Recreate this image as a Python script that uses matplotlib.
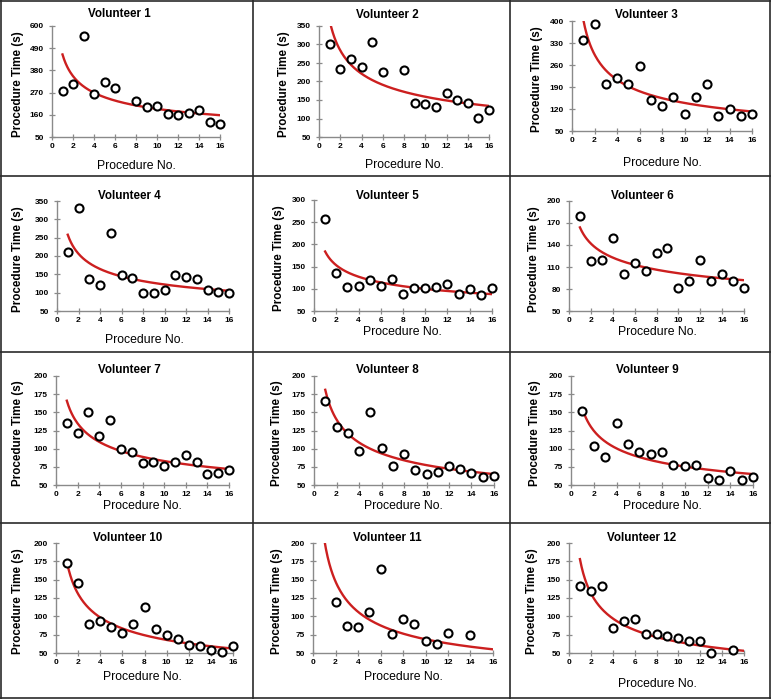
import numpy as np
import matplotlib
matplotlib.use("Agg")
import matplotlib.pyplot as plt
from matplotlib.lines import Line2D

plt.rcParams['font.family'] = ['Liberation Sans', 'DejaVu Sans']

nan = np.nan
procedure_no = np.arange(1, 17)

titles = ["Volunteer %d" % i for i in range(1, 13)]

v1 = [279, 313, 552, 262, 322, 295, nan, 229, 199, 206, 166, 158, 171, 186, 123, 116]
v2 = [300, 234, 260, 238, 308, 227, nan, 232, 141, 139, 132, 169, 149, 142, 101, 122]
v3 = [341, 391, 199, 218, 199, 256, 148, 129, 159, 105, 159, 199, 99, 120, 98, 105]
v4 = [211, 332, 136, 122, 263, 147, 141, 100, 100, 107, 148, 142, 136, 107, 101, 98]
v5 = [258, 135, 104, 107, 120, 107, 121, 88, 101, 101, 104, 111, 88, 99, 87, 101]
v6 = [180, 118, 119, 150, 101, 116, 105, 129, 136, 81, 91, 120, 91, 101, 91, 81]
v7 = [136, 122, 151, 117, 140, 99, 96, 80, 81, 76, 81, 91, 81, 65, 66, 70]
v8 = [165, 130, 121, 97, 150, 101, 76, 92, 71, 65, 68, 76, 72, 66, 61, 62]
v9 = [152, 103, 89, 136, 106, 96, 92, 96, 78, 76, 77, 60, 57, 69, 57, 61]
v10 = [173, 145, 90, 94, 85, 77, 90, 113, 83, 75, 69, 61, 59, 54, 51, 59]
v11 = [nan, 120, 87, 86, 106, 165, 76, 96, 90, 66, 62, 77, nan, 75, nan, nan]
v12 = [141, 135, 141, 84, 93, 96, 76, 76, 73, 70, 67, 66, 50, nan, 54, nan]
volunteers = [v1, v2, v3, v4, v5, v6, v7, v8, v9, v10, v11, v12]

# power trend line values read at procedure 1 and 16
trend_start = [459, 365, 405, 258, 184, 164, 166, 181, 155, 173, 205, 178]
trend_end = [158, 134, 112, 105, 88, 92, 72, 65, 65, 56, 55, 53]

y_ticks = [
    [50, 160, 270, 380, 490, 600],
    [50, 100, 150, 200, 250, 300, 350],
    [50, 120, 190, 260, 330, 400],
    [50, 100, 150, 200, 250, 300, 350],
    [50, 100, 150, 200, 250, 300],
    [50, 80, 110, 140, 170, 200],
] + [[50, 75, 100, 125, 150, 175, 200]] * 6
x_ticks = [0, 2, 4, 6, 8, 10, 12, 14, 16]

W, H = 771, 699
fig = plt.figure(figsize=(W / 100, H / 100), dpi=100)
fig.patch.set_facecolor('white')

# layout in pixels: axes (left, top, right, bottom), title center, xlabel center, ylabel x
axes_px = [
    (52, 26, 220, 137), (319, 26, 489, 137), (572, 21, 752, 131),
    (57, 201, 229, 311), (314, 200, 492, 311), (569, 201, 744, 311),
    (56, 376, 229, 485), (314, 376, 494, 485), (571, 376, 753, 485),
    (56, 543, 233, 653), (313, 543, 493, 653), (569, 543, 744, 653),
]
title_px = [(119, 14), (387, 15), (646, 15), (129, 196), (387, 196), (642, 196),
            (129, 370), (387, 370), (647, 370), (128, 538), (387, 538), (642, 538)]
xlabel_px = [(136, 166), (404, 165), (662, 163), (144, 340), (402, 332), (657, 332),
             (142, 506), (403, 506), (662, 506), (142, 677), (403, 677), (657, 684)]
ylabel_x = [18, 284, 537, 18, 279, 534, 18, 277, 535, 18, 277, 532]

def fx(x):
    return x / W

def fy(y):
    return 1 - y / H

axis_gray = '#8a8a8a'
xfit = np.linspace(1, 16, 200)

for i in range(12):
    l, t, r, b = axes_px[i]
    ax = fig.add_axes([fx(l), fy(b), (r - l) / W, (b - t) / H])
    yt = y_ticks[i]
    ax.set_xlim(0, 16)
    ax.set_ylim(yt[0], yt[-1])
    ax.set_xticks(x_ticks)
    ax.set_yticks(yt)
    for s in ['top', 'right']:
        ax.spines[s].set_visible(False)
    for s in ['left', 'bottom']:
        ax.spines[s].set_color(axis_gray)
        ax.spines[s].set_linewidth(1.0)
    ax.tick_params(direction='inout', length=4, width=0.9, color=axis_gray,
                   labelsize=6.0, pad=2)
    ax.tick_params(axis='y', pad=4)
    for lab in ax.get_xticklabels() + ax.get_yticklabels():
        lab.set_fontweight('bold')
    ax.set_facecolor('none')

    a = trend_start[i]
    bexp = np.log(trend_end[i] / trend_start[i]) / np.log(16)
    ax.plot(xfit, a * xfit ** bexp, color='#cc1f1f', lw=1.7, zorder=2)
    ax.plot(procedure_no, volunteers[i], 'o', ms=5.8, mfc='white', mec='black',
            mew=1.5, zorder=3, clip_on=False)

    ax.set_xlabel('Procedure No.', fontsize=8.8)
    ax.xaxis.set_label_coords(fx(xlabel_px[i][0]), fy(xlabel_px[i][1]), transform=fig.transFigure)
    ax.xaxis.label.set_va('center')
    ax.set_ylabel('Procedure Time (s)', fontsize=8.4, fontweight='bold')
    ax.yaxis.set_label_coords(fx(ylabel_x[i]), fy((t + b) / 2 + 3), transform=fig.transFigure)
    ax.yaxis.label.set_va('center')
    fig.text(fx(title_px[i][0]), fy(title_px[i][1]), titles[i], fontsize=8.4,
             fontweight='bold', ha='center', va='center')

# panel border grid
border = '#2a2a2a'
for x in [0.5, 253, 510, 769.5]:
    fig.add_artist(Line2D([fx(x), fx(x)], [fy(0), fy(H)], color=border, lw=1.2,
                          transform=fig.transFigure))
for y in [0.5, 176, 352, 523, 697.5]:
    fig.add_artist(Line2D([fx(0), fx(W)], [fy(y), fy(y)], color=border, lw=1.2,
                          transform=fig.transFigure))

fig.savefig('out.png', dpi=100, facecolor='white')
